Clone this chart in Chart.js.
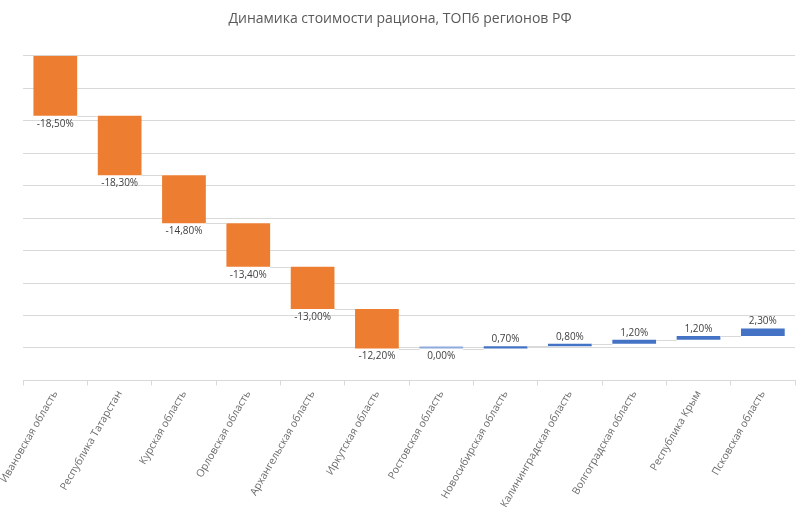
<!DOCTYPE html>
<html>
<head>
<meta charset="utf-8">
<script src="https://cdn.jsdelivr.net/npm/chart.js@4"></script>
<style>
  html, body { margin: 0; padding: 0; background: #fff; }
  #wrap { width: 800px; height: 513px; }
</style>
</head>
<body>
<div id="wrap"><canvas id="myChart"></canvas></div>
<script>
'use strict';

var regions = ['Ивановская область', 'Республика Татарстан', 'Курская область', 'Орловская область',
  'Архангельская область', 'Иркутская область', 'Ростовская область', 'Новосибирская область',
  'Калининградская область', 'Волгоградская область', 'Республика Крым', 'Псковская область'];
var changes = [-18.5, -18.3, -14.8, -13.4, -13.0, -12.2, 0, 0.7, 0.8, 1.2, 1.2, 2.3];
var startLevel = 100;

// floating bars [from, to] for the waterfall
var ranges = [];
var levels = [];
var barColors = [];
function buildRanges() {
  var level = startLevel;
  for (var i = 0; i < changes.length; i++) {
    var next = level + changes[i];
    ranges.push([level, next]);
    levels.push(next);
    if (changes[i] < 0) {
      barColors.push('#ED7D31');
    } else if (changes[i] === 0) {
      barColors.push('#8FAADC');
    } else {
      barColors.push('#4472C4');
    }
    level = next;
  }
}
buildRanges();

function fmt(v) {
  return v.toFixed(2).replace('.', ',') + '%';
}

var waterfallExtras = {
  id: 'waterfallExtras',
  afterDatasetsDraw: function(chart) {
    var ctx = chart.ctx;
    var yScale = chart.scales.y;
    var bars = chart.getDatasetMeta(0).data;
    ctx.save();
    // connectors
    ctx.strokeStyle = '#D9D9D9';
    ctx.lineWidth = 1;
    for (var i = 0; i < bars.length - 1; i++) {
      var y = Math.round(yScale.getPixelForValue(levels[i])) + 0.5;
      ctx.beginPath();
      ctx.moveTo(bars[i].x + bars[i].width / 2, y);
      ctx.lineTo(bars[i + 1].x - bars[i + 1].width / 2, y);
      ctx.stroke();
    }
    // value labels
    ctx.font = '10px "Open Sans"';
    ctx.fillStyle = '#404040';
    ctx.textAlign = 'center';
    for (var j = 0; j < bars.length; j++) {
      var lo = Math.min(ranges[j][0], ranges[j][1]);
      var hi = Math.max(ranges[j][0], ranges[j][1]);
      if (changes[j] > 0) {
        ctx.textBaseline = 'bottom';
        ctx.fillText(fmt(changes[j]), bars[j].x, yScale.getPixelForValue(hi) - 2);
      } else {
        ctx.textBaseline = 'top';
        ctx.fillText(fmt(changes[j]), bars[j].x, yScale.getPixelForValue(lo) + 3);
      }
    }
    ctx.restore();
  }
};

var ctx = document.getElementById('myChart');
var myChart = new Chart(ctx, {
  type: 'bar',
  data: {
    labels: regions,
    datasets: [{
      data: ranges,
      backgroundColor: barColors,
      borderWidth: 0,
      minBarLength: 2,
      barPercentage: 0.68,
      categoryPercentage: 1
    }]
  },
  options: {
    responsive: true,
    maintainAspectRatio: false,
    animation: false,
    layout: { padding: { left: 5, right: 5, top: 0, bottom: 0 } },
    plugins: {
      legend: { display: false },
      tooltip: { enabled: false },
      title: {
        display: true,
        text: 'Динамика стоимости рациона, ТОП6 регионов РФ',
        color: '#595959',
        font: { family: 'Open Sans', size: 14, weight: 'normal' },
        padding: { top: 11, bottom: 28 }
      }
    },
    scales: {
      x: {
        grid: { drawOnChartArea: false, drawTicks: true, tickLength: 5, color: '#D9D9D9' },
        border: { color: '#D9D9D9' },
        ticks: {
          color: '#6B6B6B',
          font: { family: 'Open Sans', size: 10.5 },
          minRotation: 60,
          maxRotation: 60,
          autoSkip: false
        }
      },
      y: {
        min: 0,
        max: 100,
        ticks: { display: false, stepSize: 10 },
        grid: { color: '#D9D9D9', drawTicks: false },
        border: { display: false }
      }
    }
  },
  plugins: [waterfallExtras]
});
</script>
</body>
</html>
